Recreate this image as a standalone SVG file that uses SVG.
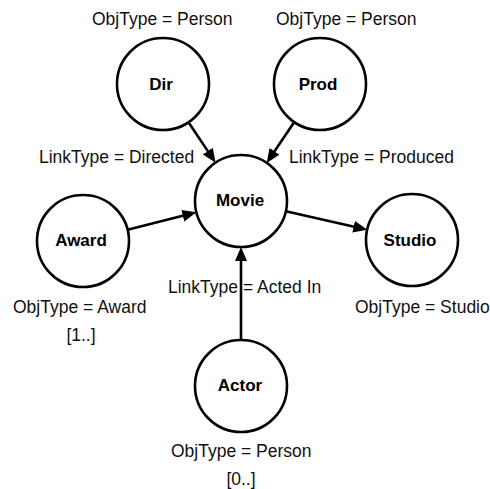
<svg xmlns="http://www.w3.org/2000/svg" width="490" height="489" viewBox="0 0 490 489">
<defs>
<style>
.n{fill:#fff;stroke:#000;stroke-width:2.6}
.t{font-family:"Liberation Sans",Arial,sans-serif;font-size:17.5px;fill:#111}
.b{font-family:"Liberation Sans",Arial,sans-serif;font-size:17px;font-weight:bold;fill:#000;text-anchor:middle}
.e{stroke:#000;stroke-width:2.6;fill:none;marker-end:url(#ah)}
</style>
<marker id="ah" markerUnits="userSpaceOnUse" markerWidth="14" markerHeight="12" refX="4" refY="6" orient="auto">
<path d="M0,0 L14,6 L0,12 z" fill="#000"/>
</marker>
</defs>
<rect width="490" height="489" fill="#fff"/>
<g id="connectors">
<line class="e" x1="188.5" y1="122.3" x2="210" y2="154.4"/>
<line class="e" x1="294.3" y1="122.1" x2="272.3" y2="154.6"/>
<line class="e" x1="127.6" y1="229.7" x2="186.7" y2="214.8"/>
<line class="e" x1="285.8" y1="211.2" x2="357.5" y2="227.6"/>
<line class="e" x1="241" y1="340" x2="241" y2="257"/>
<text class="t" x="39" y="163">LinkType = Directed</text>
<text class="t" x="289" y="163">LinkType = Produced</text>
<text class="t" x="168" y="293">LinkType = Acted In</text>
</g>
<g id="dir">
<circle class="n" cx="163" cy="84" r="46"/>
<text class="b" x="161" y="90">Dir</text>
<text class="t" x="92" y="25">ObjType = Person</text>
</g>
<g id="prod">
<circle class="n" cx="320" cy="84" r="46"/>
<text class="b" x="318" y="90">Prod</text>
<text class="t" x="276" y="25">ObjType = Person</text>
</g>
<g id="movie">
<circle class="n" cx="241" cy="201" r="46"/>
<text class="b" x="240" y="206">Movie</text>
</g>
<g id="award">
<circle class="n" cx="83" cy="241" r="46"/>
<text class="b" x="81" y="246">Award</text>
<text class="t" x="13" y="313">ObjType = Award</text>
<text class="t" x="81" y="341" text-anchor="middle">[1..]</text>
</g>
<g id="studio">
<circle class="n" cx="412" cy="240" r="46"/>
<text class="b" x="410" y="246">Studio</text>
<text class="t" x="355" y="313">ObjType = Studio</text>
</g>
<g id="actor">
<circle class="n" cx="241" cy="386" r="46"/>
<text class="b" x="240" y="391">Actor</text>
<text class="t" x="171" y="457">ObjType = Person</text>
<text class="t" x="241" y="485" text-anchor="middle">[0..]</text>
</g>
</svg>
